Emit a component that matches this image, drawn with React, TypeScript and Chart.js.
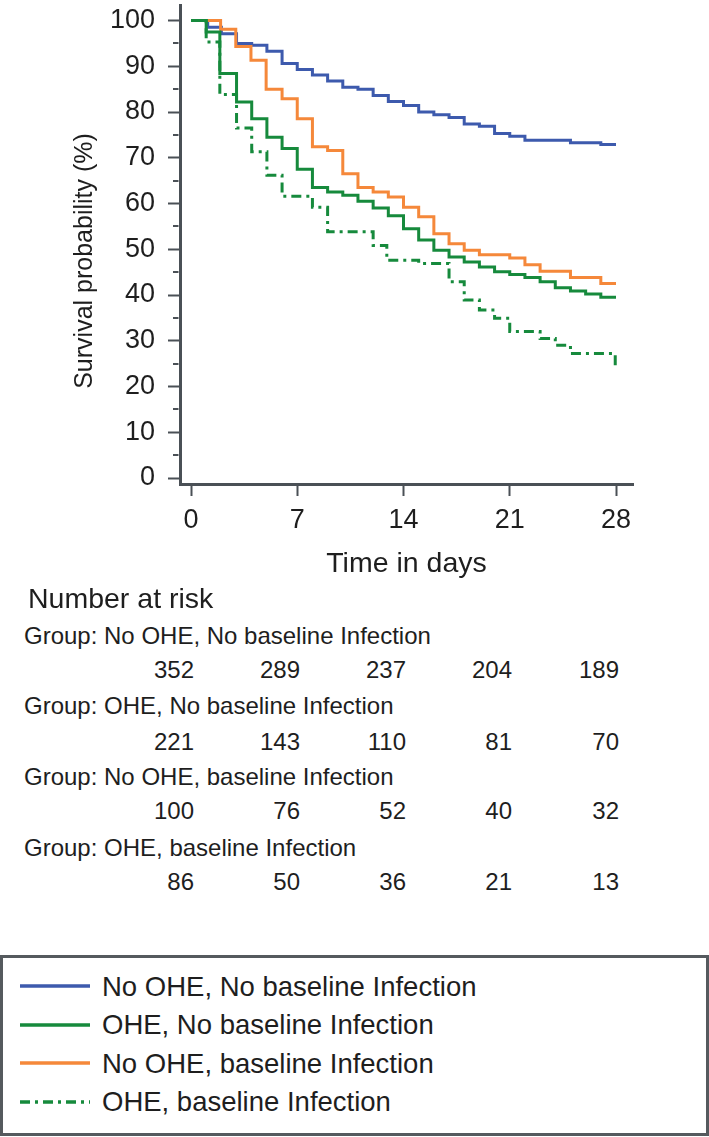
import React, { useEffect, useRef } from "react";
import { Chart, registerables } from "chart.js";

Chart.register(...registerables);

// ---- data ----
const blueTimes = [0, 1.1, 2, 3, 4, 5, 6, 7, 8, 9, 10, 11, 12, 13, 14, 15, 16, 17, 18, 19, 20, 21, 22, 25, 27, 28];
const blueSurv = [100, 98.5, 97.1, 95.0, 94.6, 93.3, 90.6, 89.3, 88.1, 86.8, 85.4, 85.0, 83.6, 82.3, 81.4, 80.0, 79.4, 78.8, 77.4, 76.9, 75.3, 74.7, 73.8, 73.3, 72.9, 72.9];

const greenTimes = [0, 1, 1.9, 3, 4, 5, 6, 7, 8, 9, 10, 11, 12, 13, 14, 15, 16, 17, 18, 19, 20, 21, 22, 23, 24, 25, 26, 27, 28];
const greenSurv = [100, 97.5, 88.4, 82.2, 78.5, 74.5, 72.0, 67.5, 63.5, 62.5, 61.8, 60.5, 59.0, 57.3, 54.5, 52.0, 49.8, 48.3, 47.2, 46.1, 45.1, 44.5, 43.8, 42.9, 41.6, 40.9, 40.2, 39.5, 39.5];

const orangeTimes = [0, 1.95, 2.95, 3.95, 4.95, 6, 7, 8, 9, 10, 11, 12, 13, 14, 15, 16, 17, 18, 19, 21, 22, 23, 25, 27, 28];
const orangeSurv = [100, 98.1, 94.3, 91.3, 85.0, 82.9, 78.5, 72.4, 71.6, 66.5, 63.5, 62.5, 61.4, 59.2, 57.1, 53.4, 51.2, 49.8, 48.8, 48.1, 46.6, 45.2, 43.8, 42.5, 42.5];

const dashTimes = [0, 1, 1.9, 3, 4, 5, 6, 8, 9, 12, 12.9, 15, 17, 18, 19, 20, 21, 23, 24, 25, 27.95, 28];
const dashSurv = [100, 95.3, 83.8, 76.5, 71.3, 66.2, 61.6, 59.2, 53.8, 50.8, 47.6, 46.9, 42.9, 38.9, 36.7, 34.9, 32.0, 30.5, 29.0, 27.2, 24.0, 24.0];

const xTickValues = [0, 7, 14, 21, 28];
const yTickValues = [0, 10, 20, 30, 40, 50, 60, 70, 80, 90, 100];
const yMinorTickValues = [5, 15, 25, 35, 45, 55, 65, 75, 85, 95];

const seriesNames = [
  "No OHE, No baseline Infection",
  "OHE, No baseline Infection",
  "No OHE, baseline Infection",
  "OHE, baseline Infection",
];
const groupLabels = [
  "Group: No OHE, No baseline Infection",
  "Group: OHE, No baseline Infection",
  "Group: No OHE, baseline Infection",
  "Group: OHE, baseline Infection",
];
const riskRow1 = ["352", "289", "237", "204", "189"];
const riskRow2 = ["221", "143", "110", "81", "70"];
const riskRow3 = ["100", "76", "52", "40", "32"];
const riskRow4 = ["86", "50", "36", "21", "13"];
const riskRows = [riskRow1, riskRow2, riskRow3, riskRow4];

// ---- style ----
const FONT = '"Liberation Sans", Arial, Helvetica, sans-serif';
const BLUE = "#3d5aad";
const GREEN = "#168a3c";
const ORANGE = "#f5883a";
const AXIS = "#4a5056";
const TEXT = "#1e1e1e";
const DASH = [10, 5, 3, 5];
const seriesColors = [BLUE, GREEN, ORANGE, GREEN];
const seriesDashes = [[], [], [], DASH];

const toPts = (t: number[], s: number[]) => t.map((x, i) => ({ x, y: s[i] }));

const extrasPlugin = {
  id: "kmExtras",
  afterDraw(chart: any) {
    const ctx = chart.ctx;
    const y = chart.scales.y;
    const left = chart.chartArea.left;
    ctx.save();
    ctx.strokeStyle = AXIS;
    ctx.lineWidth = 2;
    for (const v of yMinorTickValues) {
      const py = Math.round(y.getPixelForValue(v));
      ctx.beginPath();
      ctx.moveTo(left - 7, py);
      ctx.lineTo(left - 1.5, py);
      ctx.stroke();
    }
    ctx.fillStyle = TEXT;
    ctx.font = `25px ${FONT}`;
    ctx.translate(92, 261);
    ctx.rotate(-Math.PI / 2);
    ctx.textAlign = "center";
    ctx.textBaseline = "alphabetic";
    ctx.fillText("Survival probability (%)", 0, 0);
    ctx.restore();
  },
};

function KMChart() {
  const ref = useRef<HTMLCanvasElement | null>(null);
  useEffect(() => {
    if (!ref.current) return;
    const mk = (i: number, t: number[], s: number[]) => ({
      label: seriesNames[i],
      data: toPts(t, s),
      borderColor: seriesColors[i],
      backgroundColor: seriesColors[i],
      borderWidth: 3,
      borderDash: seriesDashes[i],
      pointRadius: 0,
      stepped: "before" as const,
      fill: false,
    });
    const chart = new Chart(ref.current, {
      type: "line",
      data: {
        datasets: [
          mk(1, greenTimes, greenSurv),
          mk(3, dashTimes, dashSurv),
          mk(2, orangeTimes, orangeSurv),
          mk(0, blueTimes, blueSurv),
        ],
      },
      options: {
        animation: false,
        responsive: false,
        maintainAspectRatio: false,
        layout: { padding: { left: 0, right: 76, top: 5, bottom: 0 } },
        plugins: { legend: { display: false }, tooltip: { enabled: false } },
        scales: {
          x: {
            type: "linear",
            min: -0.725,
            max: 29.12,
            afterBuildTicks: (s: any) => {
              s.ticks = xTickValues.map((v) => ({ value: v }));
            },
            afterFit: (s: any) => {
              s.height = 116;
              s.paddingLeft = 0;
              s.paddingRight = 0;
            },
            ticks: { font: { family: FONT, size: 27 }, color: TEXT, padding: 8, maxRotation: 0 },
            grid: { display: true, drawOnChartArea: false, drawTicks: true, tickLength: 12, tickWidth: 2, tickColor: AXIS },
            border: { display: true, color: AXIS, width: 3 },
            title: { display: true, text: "Time in days", font: { family: FONT, size: 28.5 }, color: TEXT, padding: { top: 0, bottom: 19 } },
          },
          y: {
            type: "linear",
            min: -1.31,
            max: 103.39,
            afterBuildTicks: (s: any) => {
              s.ticks = yTickValues.map((v) => ({ value: v }));
            },
            afterFit: (s: any) => {
              s.width = 180;
              s.paddingTop = 0;
              s.paddingBottom = 0;
            },
            ticks: { font: { family: FONT, size: 27 }, color: TEXT, padding: 13 },
            grid: { display: true, drawOnChartArea: false, drawTicks: true, tickLength: 12, tickWidth: 2, tickColor: AXIS },
            border: { display: true, color: AXIS, width: 3 },
          },
        },
      },
      plugins: [extrasPlugin],
    });
    return () => chart.destroy();
  }, []);
  return <canvas ref={ref} width={709} height={600} style={{ position: "absolute", left: 0, top: 0 }} />;
}

function Txt(props: { x: number; base: number; size: number; align?: "left" | "right"; children: React.ReactNode }) {
  const { x, base, size, align = "left", children } = props;
  const top = base - 0.8465 * size;
  const style: React.CSSProperties = {
    position: "absolute",
    top,
    fontSize: size,
    lineHeight: 1,
    whiteSpace: "nowrap",
    color: TEXT,
  };
  if (align === "left") style.left = x;
  else style.right = 709 - x;
  return <div style={style}>{children}</div>;
}

const groupBaselines = [644, 714, 785, 856];
const rowBaselines = [678, 750, 819, 890];
const colRights = [194, 300, 406, 512, 619];
const legendCenters = [986, 1024.5, 1063, 1101.5];

export default function App() {
  return (
    <div style={{ position: "absolute", left: 0, top: 0, width: 709, height: 1137, background: "#fff", fontFamily: FONT, overflow: "hidden" }}>
      <KMChart />
      <Txt x={28} base={608} size={28.5}>Number at risk</Txt>
      {groupLabels.map((g, i) => (
        <React.Fragment key={g}>
          <Txt x={24} base={groupBaselines[i]} size={24}>{g}</Txt>
          {riskRows[i].map((n, j) => (
            <Txt key={j} x={colRights[j]} base={rowBaselines[i]} size={24} align="right">{n}</Txt>
          ))}
        </React.Fragment>
      ))}
      <div style={{ position: "absolute", left: 0, top: 955, width: 703, height: 175, border: `3px solid #555a5e` }} />
      {seriesNames.map((name, i) => (
        <React.Fragment key={name}>
          <svg width={80} height={10} style={{ position: "absolute", left: 18, top: legendCenters[i] - 5 }}>
            <line x1={2} y1={5} x2={72} y2={5} stroke={seriesColors[i]} strokeWidth={3.5} strokeDasharray={seriesDashes[i].length ? seriesDashes[i].join(",") : undefined} />
          </svg>
          <Txt x={102} base={legendCenters[i] + 10} size={27.5}>{name}</Txt>
        </React.Fragment>
      ))}
    </div>
  );
}
